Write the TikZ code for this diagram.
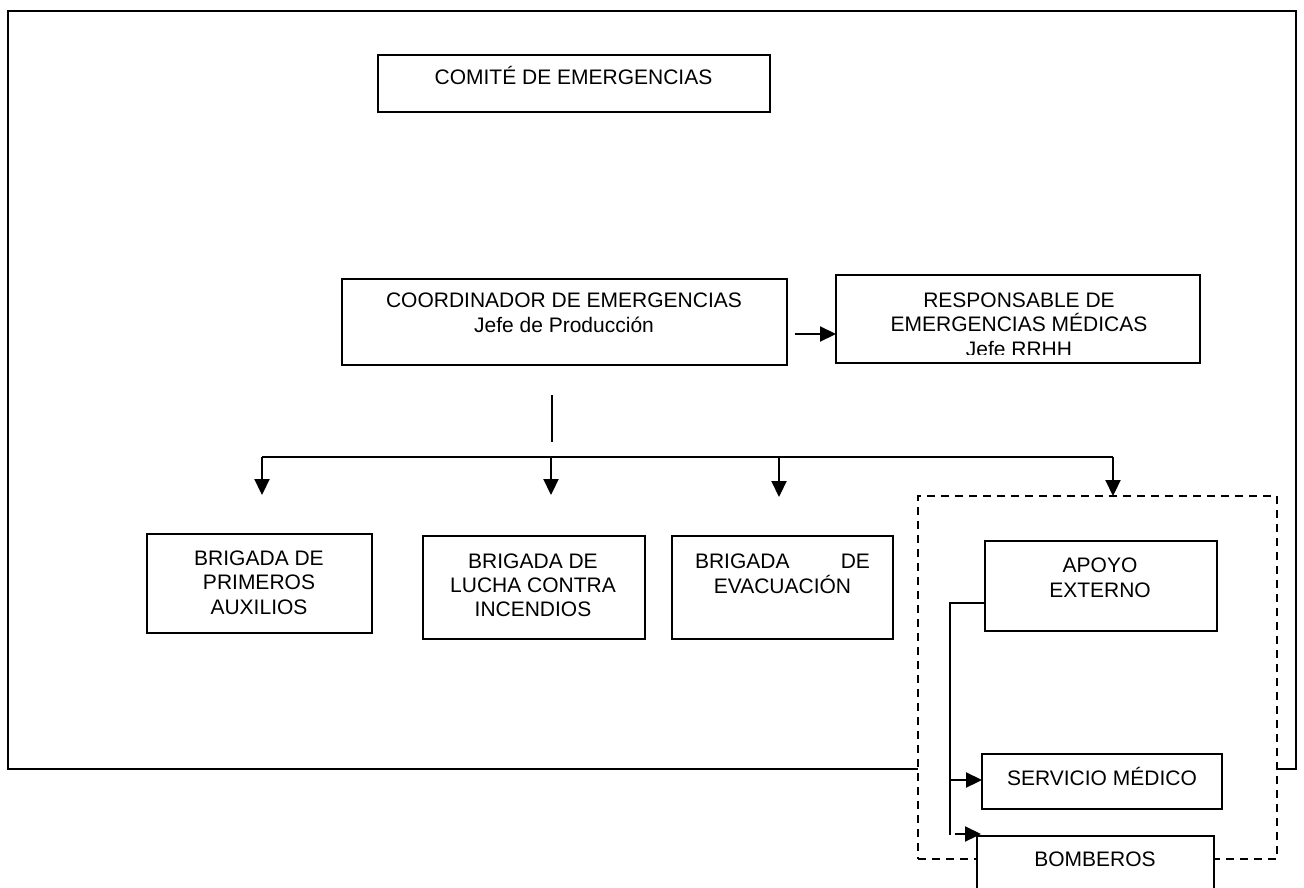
\documentclass[tikz,border=0pt]{standalone}
\usepackage{fontspec}
\setmainfont{Liberation Sans}
\usetikzlibrary{arrows.meta}

\tikzset{
  box/.style={draw=black, line width=2.2pt, fill=white, rectangle, inner sep=0pt, outer sep=0pt},
  txt/.style={inner sep=0pt, outer sep=0pt, anchor=base, align=center,
              font=\fontsize{21}{24.2}\selectfont},
  conn/.style={line width=2.2pt, draw=black},
  arr/.style={conn, -{Triangle[length=16pt,width=15pt]}},
  extern/.style={draw=black, line width=1.7pt, dash pattern=on 8pt off 6pt, fill=white,
                 rectangle, inner sep=0pt, outer sep=0pt},
}

\begin{document}
\begin{tikzpicture}[x=1pt,y=-1pt]
\useasboundingbox (0,0) rectangle (1304,888);

% outer frame
\node[draw=black, line width=2.6pt, rectangle, inner sep=0pt,
      minimum width=1288pt, minimum height=758pt] (marco) at (652,390) {};

% top of the hierarchy (text anchors sit on the last line's baseline)
\node[box, minimum width=392pt, minimum height=57pt] (comite) at (574,83.5) {};
\node[txt] (comite-t) at (573.5,85) {COMITÉ DE EMERGENCIAS};

\node[box, minimum width=445pt, minimum height=86pt] (coord) at (564.5,322) {};
\node[txt] (coord-t) at (564,332) {COORDINADOR DE EMERGENCIAS\\Jefe de Producción};

\node[box, minimum width=364pt, minimum height=88pt] (resp) at (1018,319) {};
\begin{scope}
  \clip (840,280) rectangle (1196,354.5);
  \node[txt] (resp-t) at (1019,356) {RESPONSABLE DE\\EMERGENCIAS MÉDICAS\\Jefe RRHH};
\end{scope}

% brigades
\node[box, minimum width=225pt, minimum height=99pt] (b1) at (259.5,583.5) {};
\node[txt] (b1-t) at (259,614) {BRIGADA DE\\PRIMEROS\\AUXILIOS};

\node[box, minimum width=222pt, minimum height=103pt] (b2) at (534,587.5) {};
\node[txt] (b2-t) at (533,616.5) {BRIGADA DE\\LUCHA CONTRA\\INCENDIOS};

\node[box, minimum width=221pt, minimum height=103pt] (b3) at (782.5,587.5) {};
\node[txt] (b3-t) at (782.5,593) {\makebox[175pt]{BRIGADA\hfill DE}\\EVACUACIÓN};

% external support group
\node[extern, minimum width=359pt, minimum height=363pt] (externo) at (1097.5,677.5) {};

\node[box, minimum width=232pt, minimum height=90pt] (apoyo) at (1101,586) {};
\node[txt] (apoyo-t) at (1100,597) {APOYO\\EXTERNO};

\node[box, minimum width=240pt, minimum height=55pt] (servicio) at (1102,781.5) {};
\node[txt] (servicio-t) at (1102,785) {SERVICIO MÉDICO};

\node[box, minimum width=237pt, minimum height=74pt] (bomberos) at (1095.5,873) {};
\node[txt] (bomberos-t) at (1095,866.5) {BOMBEROS};

% coordinator to medical manager
\coordinate (c-start) at (795,334);
\draw[arr] (c-start) -- (c-start -| resp.west);

% stub below the coordinator
\coordinate (stub-top) at (552,395);
\coordinate (stub-bot) at (552,442);
\draw[conn] (stub-top) -- (stub-bot);

% distribution bus to the brigades
\coordinate (bus-l) at (262,457);
\coordinate (bus-r) at (1113,457);
\draw[conn] (bus-l) -- (bus-r);
\coordinate (tip1) at (262,495);
\coordinate (tip2) at (551,495);
\coordinate (tip3) at (779,497);
\coordinate (tip4) at (1113,496);
\draw[arr] (bus-l) -- (tip1);
\draw[arr] (tip2 |- bus-l) -- (tip2);
\draw[arr] (tip3 |- bus-l) -- (tip3);
\draw[arr] (bus-r) -- (tip4);

% external support branches
\coordinate (j-top) at (950,603);
\coordinate (j-bot) at (950,835);
\draw[conn] (apoyo.west |- j-top) -- (j-top) -- (j-bot);
\coordinate (s-start) at (950,780);
\draw[arr] (s-start) -- (s-start -| servicio.west);
\coordinate (f-start) at (955,834);
\coordinate (f-end) at (981,834);
\draw[arr] (f-start) -- (f-end);
\end{tikzpicture}
\end{document}
